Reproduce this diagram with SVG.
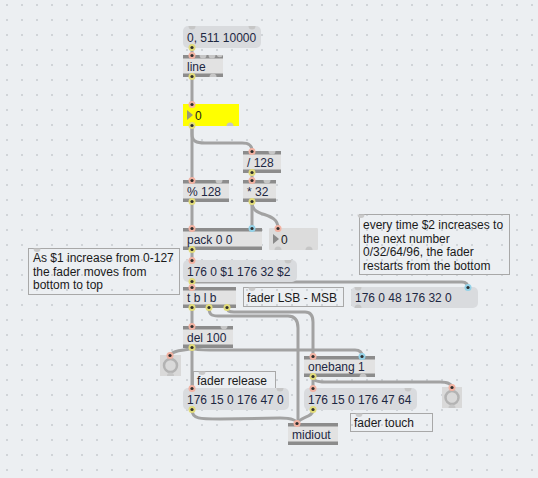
<svg xmlns="http://www.w3.org/2000/svg" width="538" height="478" viewBox="0 0 538 478">
<defs>
<pattern id="grid" width="15" height="15" patternUnits="userSpaceOnUse" x="6" y="4">
<rect x="0.3" y="0.3" width="1.4" height="1.4" fill="#b4b8bd"/>
</pattern>
<style>
.t{font-family:"Liberation Sans",Arial,sans-serif;font-size:12px;fill:#1d2742}
.c{font-family:"Liberation Sans",Arial,sans-serif;font-size:12px;fill:#1a1a1a}
.obj{fill:#e2e2e2}
.band{fill:#8c8c8c}
.msg{fill:#d9dbde}
.cmt{fill:none;stroke:#a8a8a8;stroke-width:1}
.cord{fill:none;stroke:#a2a2a2;stroke-width:3;stroke-linecap:round;stroke-linejoin:round}
.pin{fill:#f2b2a2}
.pout{fill:#e2dc7a}
.pblue{fill:#94d2e8}
.dot{fill:#2e2e2e}
.pu{fill:#c6c6c6}
.tab{fill:#c9c9c9}
</style>
</defs>
<rect width="538" height="478" fill="#eceff2"/>
<rect width="538" height="478" fill="url(#grid)"/>

<g id="connectors">
<path class="cord" d="M192,48 V55"/>
<path class="cord" d="M192,77 V104"/>
<path class="cord" d="M192,126 V180"/>
<path class="cord" d="M192,126 V134 C192,141 196,143 205,143 H242 C249,143 252,145 252,151"/>
<path class="cord" d="M252,173 V180"/>
<path class="cord" d="M192,202 V228"/>
<path class="cord" d="M252,202 V228"/>
<path class="cord" d="M252,203 C252,218 278,211 278,228"/>
<path class="cord" d="M192,250 V260"/>
<path class="cord" d="M192,282 V287"/>
<path class="cord" d="M192,282 H462 Q468,282 468,288"/>
<path class="cord" d="M192,308 V326"/>
<path class="cord" d="M209,308 C209,314 211,316 218,316 H288 C295,316 298,320 298,328 V423"/>
<path class="cord" d="M227,308 C227,311 229,312 234,312 H305 C311,312 313,316 313,322 V356"/>
<path class="cord" d="M192,348 C188,351 172,349 170,356"/>
<path class="cord" d="M192,348 V388"/>
<path class="cord" d="M192,348 C195,350 200,350 210,350 H355 C360,350 362,352 362,356"/>
<path class="cord" d="M313,377 V388"/>
<path class="cord" d="M313,377 C313,381 318,382 325,382 H440 C448,382 452,384 452,388"/>
<path class="cord" d="M192,410 C192,419 200,419 220,419 L280,418 C290,418 297,420 297,424"/>
<path class="cord" d="M313,410 C313,418 300,416 297,424"/>
</g>

<g id="msg-0-511-10000">
<rect class="msg" x="183" y="26" width="78" height="22" rx="5"/>
<text class="t" x="187" y="41.5">0, 511 10000</text>
<path class="pu" d="M188.5,26 A3.5,3.5 0 0 0 195.5,26 Z"/>
<path class="pu" d="M248.5,26 A3.5,3.5 0 0 0 255.5,26 Z"/>
<circle class="pout" cx="192" cy="47.5" r="3.5"/><circle class="dot" cx="192" cy="47.5" r="1.6"/>
</g>

<g id="obj-line">
<rect class="obj" x="183" y="55" width="40" height="22"/>
<rect class="band" x="183" y="55" width="40" height="3.5"/>
<rect class="band" x="183" y="73.5" width="40" height="3.5"/>
<text class="t" x="187" y="70.5">line</text>
<path class="pu" d="M199.5,55 A3.5,3.5 0 0 0 206.5,55 Z"/>
<path class="pu" d="M208.5,55 A3.5,3.5 0 0 0 215.5,55 Z"/>
<path class="pu" d="M216.5,55 A3.5,3.5 0 0 0 223,55 Z"/>
<path class="pu" d="M209.5,77 A3.5,3.5 0 0 1 216.5,77 Z"/>
<circle class="pin" cx="192" cy="55.5" r="3.5"/><circle class="dot" cx="192" cy="55.5" r="1.6"/>
<circle class="pout" cx="192" cy="76.5" r="3.5"/><circle class="dot" cx="192" cy="76.5" r="1.6"/>
</g>

<g id="num-yellow">
<rect x="183" y="104" width="56" height="22" fill="#ffff00"/>
<path d="M187,110 L193,115 L187,120 Z" fill="#9a9a7a"/>
<text class="t" x="195" y="119.5" style="fill:#1a1a1a">0</text>
<path class="pu" d="M226.5,126 A3.5,3.5 0 0 1 233.5,126 Z"/>
<circle class="pin" cx="192" cy="104.5" r="3.5"/><circle class="dot" cx="192" cy="104.5" r="1.6"/>
<circle class="pout" cx="192" cy="125.5" r="3.5"/><circle class="dot" cx="192" cy="125.5" r="1.6"/>
</g>

<g id="obj-div128">
<rect class="obj" x="243" y="151" width="38" height="22"/>
<rect class="band" x="243" y="151" width="38" height="3.5"/>
<rect class="band" x="243" y="169.5" width="38" height="3.5"/>
<text class="t" x="247" y="166.5">/ 128</text>
<path class="pu" d="M268.5,151 A3.5,3.5 0 0 0 275.5,151 Z"/>
<circle class="pin" cx="252" cy="151.5" r="3.5"/><circle class="dot" cx="252" cy="151.5" r="1.6"/>
<circle class="pout" cx="252" cy="172.5" r="3.5"/><circle class="dot" cx="252" cy="172.5" r="1.6"/>
</g>

<g id="obj-mod128">
<rect class="obj" x="183" y="180" width="46" height="22"/>
<rect class="band" x="183" y="180" width="46" height="3.5"/>
<rect class="band" x="183" y="198.5" width="46" height="3.5"/>
<text class="t" x="187" y="195.5">% 128</text>
<path class="pu" d="M215.5,180 A3.5,3.5 0 0 0 222.5,180 Z"/>
<circle class="pin" cx="192" cy="180.5" r="3.5"/><circle class="dot" cx="192" cy="180.5" r="1.6"/>
<circle class="pout" cx="192" cy="201.5" r="3.5"/><circle class="dot" cx="192" cy="201.5" r="1.6"/>
</g>

<g id="obj-mul32">
<rect class="obj" x="243" y="180" width="33" height="22"/>
<rect class="band" x="243" y="180" width="33" height="3.5"/>
<rect class="band" x="243" y="198.5" width="33" height="3.5"/>
<text class="t" x="247" y="195.5">* 32</text>
<path class="pu" d="M263.5,180 A3.5,3.5 0 0 0 270.5,180 Z"/>
<circle class="pin" cx="252" cy="180.5" r="3.5"/><circle class="dot" cx="252" cy="180.5" r="1.6"/>
<circle class="pout" cx="252" cy="201.5" r="3.5"/><circle class="dot" cx="252" cy="201.5" r="1.6"/>
</g>

<g id="obj-pack">
<rect class="obj" x="183" y="228" width="79" height="22"/>
<rect class="band" x="183" y="228" width="79" height="3.5"/>
<rect class="band" x="183" y="246.5" width="79" height="3.5"/>
<text class="t" x="187" y="243.5">pack 0 0</text>
<circle class="pin" cx="192" cy="228.5" r="3.5"/><circle class="dot" cx="192" cy="228.5" r="1.6"/>
<circle class="pblue" cx="252" cy="228.5" r="3.5"/><circle class="dot" cx="252" cy="228.5" r="1.6"/>
<circle class="pout" cx="192" cy="249.5" r="3.5"/><circle class="dot" cx="192" cy="249.5" r="1.6"/>
</g>

<g id="num-gray">
<rect x="269" y="228" width="49" height="22" fill="#dcdcdc" rx="1"/>
<path d="M273,234 L279,239 L273,244 Z" fill="#8a8a8a"/>
<text class="t" x="281" y="243.5" style="fill:#1a1a1a">0</text>
<path class="pu" d="M274.5,250 A3.5,3.5 0 0 1 281.5,250 Z"/>
<path class="pu" d="M305.5,250 A3.5,3.5 0 0 1 312.5,250 Z"/>
<circle class="pin" cx="278" cy="228.5" r="3.5"/><circle class="dot" cx="278" cy="228.5" r="1.6"/>
</g>

<g id="msg-176-0-1">
<rect class="msg" x="183" y="260" width="114" height="22" rx="5"/>
<text class="t" x="187" y="275.5">176 0 $1 176 32 $2</text>
<path class="pu" d="M284.5,260 A3.5,3.5 0 0 0 291.5,260 Z"/>
<circle class="pin" cx="192" cy="260.5" r="3.5"/><circle class="dot" cx="192" cy="260.5" r="1.6"/>
<circle class="pout" cx="192" cy="281.5" r="3.5"/><circle class="dot" cx="192" cy="281.5" r="1.6"/>
</g>

<g id="cmt-as1">
<rect class="cmt" x="28.5" y="248.5" width="151" height="46"/>
<path class="tab" d="M33.5,248.5 A3.5,3.5 0 0 0 40.5,248.5 Z"/>
<text class="c" x="33" y="262">As $1 increase from 0-127</text>
<text class="c" x="33" y="275.5">the fader moves from</text>
<text class="c" x="33" y="289">bottom to top</text>
</g>

<g id="cmt-every">
<rect class="cmt" x="359.5" y="214.5" width="150" height="60"/>
<path class="tab" d="M357.5,214.5 A3.5,3.5 0 0 0 364.5,214.5 Z"/>
<text class="c" x="363" y="229">every time $2 increases to</text>
<text class="c" x="363" y="242.5">the next number</text>
<text class="c" x="363" y="256">0/32/64/96, the fader</text>
<text class="c" x="363" y="269.5">restarts from the bottom</text>
</g>

<g id="obj-tblb">
<rect class="obj" x="183" y="287" width="53" height="21"/>
<rect class="band" x="183" y="287" width="53" height="3.5"/>
<rect class="band" x="183" y="304.5" width="53" height="3.5"/>
<text class="t" x="187" y="302">t b l b</text>
<circle class="pin" cx="192" cy="287.5" r="3.5"/><circle class="dot" cx="192" cy="287.5" r="1.6"/>
<circle class="pout" cx="192" cy="307.5" r="3.5"/><circle class="dot" cx="192" cy="307.5" r="1.6"/>
<circle class="pout" cx="209" cy="307.5" r="3.5"/><circle class="dot" cx="209" cy="307.5" r="1.6"/>
<circle class="pout" cx="227" cy="307.5" r="3.5"/><circle class="dot" cx="227" cy="307.5" r="1.6"/>
</g>

<g id="cmt-lsb">
<rect class="cmt" x="243.5" y="287.5" width="100" height="19"/>
<path class="tab" d="M248.5,287.5 A3.5,3.5 0 0 0 255.5,287.5 Z"/>
<text class="c" x="247" y="301.5">fader LSB - MSB</text>
</g>

<g id="msg-176-0-48">
<rect class="msg" x="351" y="287" width="127" height="21" rx="5"/>
<text class="t" x="355" y="302">176 0 48 176 32 0</text>
<path class="pu" d="M354.5,287 A3.5,3.5 0 0 0 361.5,287 Z"/>
<path class="pu" d="M354.5,308 A3.5,3.5 0 0 1 361.5,308 Z"/>
<circle class="pblue" cx="468" cy="287.5" r="3.5"/><circle class="dot" cx="468" cy="287.5" r="1.6"/>
</g>

<g id="obj-del100">
<rect class="obj" x="183" y="326" width="50" height="22"/>
<rect class="band" x="183" y="326" width="50" height="3.5"/>
<rect class="band" x="183" y="344.5" width="50" height="3.5"/>
<text class="t" x="187" y="341.5">del 100</text>
<path class="pu" d="M220.5,326 A3.5,3.5 0 0 0 227.5,326 Z"/>
<circle class="pin" cx="192" cy="326.5" r="3.5"/><circle class="dot" cx="192" cy="326.5" r="1.6"/>
<circle class="pout" cx="192" cy="347.5" r="3.5"/><circle class="dot" cx="192" cy="347.5" r="1.6"/>
</g>

<g id="bang-left">
<rect x="160" y="355" width="21" height="21" fill="#d9d9d9"/>
<circle cx="170.5" cy="365.5" r="6.5" fill="none" stroke="#b3b3b3" stroke-width="2.5"/>
<path class="pu" d="M167,376 A3.5,3.5 0 0 1 174,376 Z"/>
<circle class="pin" cx="170" cy="355.5" r="3.5"/><circle class="dot" cx="170" cy="355.5" r="1.6"/>
</g>

<g id="obj-onebang">
<rect class="obj" x="304" y="356" width="71" height="21"/>
<rect class="band" x="304" y="356" width="71" height="3.5"/>
<rect class="band" x="304" y="373.5" width="71" height="3.5"/>
<text class="t" x="308" y="371">onebang 1</text>
<path class="pu" d="M359.5,377 A3.5,3.5 0 0 1 366.5,377 Z"/>
<circle class="pin" cx="313" cy="356.5" r="3.5"/><circle class="dot" cx="313" cy="356.5" r="1.6"/>
<circle class="pblue" cx="362" cy="356.5" r="3.5"/><circle class="dot" cx="362" cy="356.5" r="1.6"/>
<circle class="pout" cx="313" cy="376.5" r="3.5"/><circle class="dot" cx="313" cy="376.5" r="1.6"/>
</g>

<g id="cmt-release">
<rect class="cmt" x="193.5" y="371.5" width="82" height="18"/>
<path class="tab" d="M198.5,371.5 A3.5,3.5 0 0 0 205.5,371.5 Z"/>
<text class="c" x="197" y="384.5">fader release</text>
</g>

<g id="msg-release">
<rect class="msg" x="183" y="388" width="106" height="22" rx="5"/>
<text class="t" x="187" y="403.5">176 15 0 176 47 0</text>
<path class="pu" d="M276.5,388 A3.5,3.5 0 0 0 283.5,388 Z"/>
<circle class="pin" cx="192" cy="388.5" r="3.5"/><circle class="dot" cx="192" cy="388.5" r="1.6"/>
<circle class="pout" cx="192" cy="409.5" r="3.5"/><circle class="dot" cx="192" cy="409.5" r="1.6"/>
</g>

<g id="msg-touch">
<rect class="msg" x="304" y="388" width="113" height="22" rx="5"/>
<text class="t" x="308" y="403.5">176 15 0 176 47 64</text>
<path class="pu" d="M404.5,388 A3.5,3.5 0 0 0 411.5,388 Z"/>
<circle class="pin" cx="313" cy="388.5" r="3.5"/><circle class="dot" cx="313" cy="388.5" r="1.6"/>
<circle class="pout" cx="313" cy="409.5" r="3.5"/><circle class="dot" cx="313" cy="409.5" r="1.6"/>
</g>

<g id="bang-right">
<rect x="442" y="387" width="20" height="21" fill="#d9d9d9"/>
<circle cx="452" cy="397.5" r="6.5" fill="none" stroke="#b3b3b3" stroke-width="2.5"/>
<path class="pu" d="M448.5,408 A3.5,3.5 0 0 1 455.5,408 Z"/>
<circle class="pin" cx="452" cy="387.5" r="3.5"/><circle class="dot" cx="452" cy="387.5" r="1.6"/>
</g>

<g id="cmt-touch">
<rect class="cmt" x="350.5" y="413.5" width="82" height="18"/>
<path class="tab" d="M355.5,413.5 A3.5,3.5 0 0 0 362.5,413.5 Z"/>
<text class="c" x="354" y="427">fader touch</text>
</g>

<g id="obj-midiout">
<rect class="obj" x="288" y="423" width="50" height="22"/>
<rect class="band" x="288" y="423" width="50" height="3.5"/>
<rect class="band" x="288" y="441.5" width="50" height="3.5"/>
<text class="t" x="292" y="438.5">midiout</text>
<circle class="pin" cx="297" cy="423.5" r="3.5"/><circle class="dot" cx="297" cy="423.5" r="1.6"/>
</g>
</svg>
